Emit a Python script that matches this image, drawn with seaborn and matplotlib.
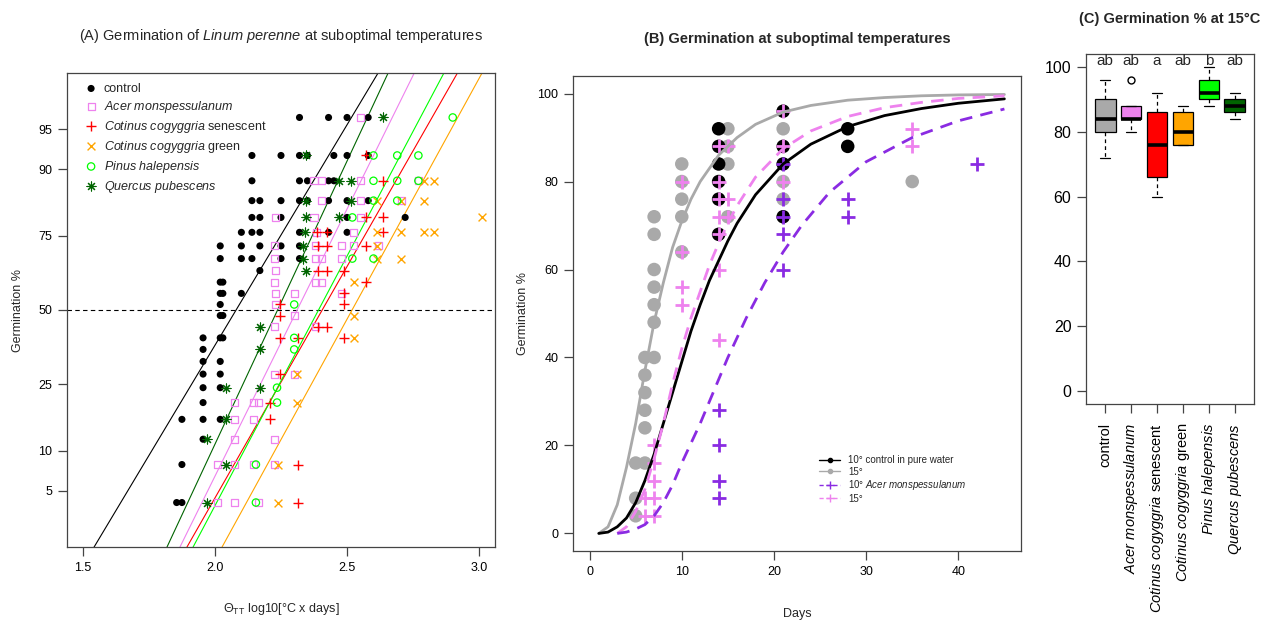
import numpy as np
import pandas as pd
import matplotlib
matplotlib.use("Agg")
import matplotlib.pyplot as plt
from matplotlib.lines import Line2D
import seaborn as sns
from statistics import NormalDist

# ============================================
# DATA - panel A (germination % vs log10 thermal time)
# ============================================
ctrl_x = [2.32, 2.43, 2.50, 2.58,
          2.14, 2.25, 2.32, 2.35, 2.45, 2.50, 2.58,
          2.14, 2.32, 2.35, 2.43, 2.45,
          2.14, 2.17, 2.25, 2.32, 2.35, 2.43, 2.50, 2.58,
          2.14, 2.17, 2.25, 2.50, 2.72,
          2.10, 2.14, 2.17, 2.32, 2.43, 2.50,
          2.02, 2.10, 2.17, 2.25, 2.32,
          2.02, 2.10, 2.14, 2.25, 2.32,
          2.17,
          2.02, 2.03,
          2.02, 2.03, 2.10,
          2.02,
          2.02, 2.03,
          1.955, 2.02, 2.03,
          1.955,
          1.955, 2.02,
          1.955, 2.02,
          1.955, 2.02,
          1.955,
          1.875, 1.955, 2.02,
          1.955,
          1.875,
          1.855, 1.875]
ctrl_y = [96, 96, 96, 96,
          92, 92, 92, 92, 92, 92, 92,
          88, 88, 88, 88, 88,
          84, 84, 84, 84, 84, 84, 84, 84,
          80, 80, 80, 80, 80,
          76, 76, 76, 76, 76, 76,
          72, 72, 72, 72, 72,
          68, 68, 68, 68, 68,
          64,
          60, 60,
          56, 56, 56,
          52,
          48, 48,
          40, 40, 40,
          36,
          32, 32,
          28, 28,
          24, 24,
          20,
          16, 16, 16,
          12,
          8,
          4, 4]

acer_x = [2.55,
          2.375, 2.405, 2.55, 2.77,
          2.405, 2.55, 2.705,
          2.23, 2.375, 2.55,
          2.385, 2.525,
          2.225, 2.38, 2.48, 2.525, 2.62,
          2.225, 2.38, 2.405, 2.48,
          2.23,
          2.225, 2.38, 2.405,
          2.23, 2.30, 2.48,
          2.23,
          2.30,
          2.225, 2.38,
          2.225, 2.30,
          2.075, 2.145, 2.165,
          2.075, 2.145,
          2.075, 2.225,
          2.01, 2.075, 2.145, 2.225,
          2.01, 2.075, 2.165]
acer_y = [96,
          88, 88, 88, 88,
          84, 84, 84,
          80, 80, 80,
          76, 76,
          72, 72, 72, 72, 72,
          68, 68, 68, 68,
          64,
          60, 60, 60,
          56, 56, 56,
          52,
          48,
          44, 44,
          28, 28,
          20, 20, 20,
          16, 16,
          12, 12,
          8, 8, 8, 8,
          4, 4, 4]

sen_x = [2.57, 2.635, 2.57, 2.635, 2.385, 2.425, 2.635, 2.39, 2.425, 2.57,
         2.39, 2.425, 2.49, 2.57, 2.49, 2.245, 2.49, 2.245, 2.39, 2.425,
         2.245, 2.315, 2.49, 2.245, 2.21, 2.21, 2.315, 2.315]
sen_y = [92, 88, 80, 80, 76, 76, 76, 72, 72, 72,
         64, 64, 64, 60, 56, 52, 52, 48, 44, 44,
         40, 40, 40, 28, 20, 16, 8, 4]

grn_x = [2.79, 2.83, 2.615, 2.705, 2.79, 3.01, 2.615, 2.705, 2.79, 2.83,
         2.615, 2.615, 2.705, 2.525, 2.525, 2.525, 2.31, 2.31, 2.24, 2.24]
grn_y = [88, 88, 84, 84, 84, 80, 76, 76, 76, 76,
         72, 68, 68, 60, 48, 40, 28, 20, 8, 4]

pin_x = [2.90, 2.60, 2.69, 2.77, 2.60, 2.69, 2.77, 2.60, 2.69, 2.52,
         2.52, 2.60, 2.30, 2.30, 2.30, 2.235, 2.235, 2.155, 2.155]
pin_y = [96, 92, 92, 92, 88, 88, 88, 84, 84, 80,
         68, 68, 52, 40, 36, 24, 20, 8, 4]

que_x = [2.635, 2.345, 2.47, 2.515, 2.345, 2.515, 2.345, 2.47, 2.34, 2.335,
         2.335, 2.345, 2.17, 2.17, 2.04, 2.17, 2.04, 1.97, 2.04, 1.97]
que_y = [96, 92, 88, 88, 84, 84, 80, 80, 76, 72,
         68, 64, 44, 36, 24, 24, 16, 12, 8, 4]

# probit fits: theta at 50 % and slope (probit units per log10 unit)
fit_x50 = [2.080, 2.311, 2.406, 2.519, 2.392, 2.237]
fit_slope = [4.01, 4.86, 4.21, 4.38, 4.54, 5.15]

# ============================================
# DATA - panel B (cumulative germination vs days)
# ============================================
c10_days = [14, 14, 14, 14, 14, 14, 21, 21, 21, 21, 28, 28]
c10_germ = [92, 88, 84, 80, 76, 68, 96, 88, 84, 72, 92, 88]
c15_days = [5, 5, 5, 6, 6, 6, 6, 6, 6, 7, 7, 7, 7, 7, 7, 7,
            10, 10, 10, 10, 10, 15, 15, 15, 15, 21, 21, 21, 35]
c15_germ = [16, 8, 4, 40, 36, 32, 28, 24, 16, 72, 68, 60, 56, 52, 48, 40,
            84, 80, 76, 72, 64, 92, 88, 84, 72, 92, 80, 76, 80]
a15_days = [6, 6, 7, 7, 7, 7, 7, 10, 10, 10, 10,
            14, 14, 14, 14, 14, 14, 14, 15, 15, 15, 21, 21, 21, 35, 35]
a15_germ = [8, 4, 20, 16, 12, 8, 4, 80, 64, 56, 52,
            88, 80, 76, 72, 68, 60, 44, 88, 76, 72, 96, 88, 80, 92, 88]
a10_days = [14, 14, 14, 14, 21, 21, 21, 21, 21, 28, 28, 42]
a10_germ = [28, 20, 12, 8, 84, 76, 72, 68, 60, 76, 72, 84]

c10_fit_days = [1, 2, 3, 4, 5, 6, 7, 8, 9, 10, 11, 12, 13, 14, 15, 16, 18, 21, 24, 28, 32, 36, 40, 45]
c10_fit = [0, 0.3, 1.5, 3.5, 7, 12, 18, 25, 32, 39, 46, 52, 57.5, 62, 66.5, 70.5, 77, 84,
           88.5, 92.5, 95, 96.6, 97.8, 98.8]
c15_fit_days = [1, 2, 3, 4, 5, 6, 7, 8, 9, 10, 11, 12, 13, 14, 16, 18, 21, 24, 28, 32, 36, 40, 45]
c15_fit = [0, 1.5, 6.5, 15, 25, 37, 48, 57, 65, 71, 76, 80, 83, 86, 90, 93, 95.8, 97.3,
           98.5, 99.1, 99.5, 99.7, 99.8]
a15_fit_days = [3, 4, 5, 6, 7, 8, 9, 10, 11, 12, 13, 14, 15, 16, 18, 21, 24, 28, 32, 36, 40, 45]
a15_fit = [0, 1.5, 5, 10, 17, 25, 34, 42, 49, 55, 61, 66, 70.5, 74.5, 81, 87.5, 91.5,
           94.8, 96.8, 98, 98.9, 99.5]
a10_fit_days = [3, 4, 5, 6, 7, 8, 9, 10, 11, 12, 13, 14, 15, 16, 17, 18, 19, 21, 23, 26,
                30, 35, 40, 45]
a10_fit = [0, 0.3, 1, 2, 4, 7, 11, 16, 20.5, 25, 30, 35, 40, 44.5, 49, 53, 57, 64, 70,
           77.5, 84.5, 90, 93.8, 96.5]

# ============================================
# DATA - panel C (germination % at 15 C, replicates)
# ============================================
box_groups = ["control", "acer", "cot_sen", "cot_green", "pinus", "quercus"]
box_ctrl = [72, 80, 84, 90, 96]
box_acer = [80, 84, 84, 88, 96]
box_cot_sen = [60, 66, 76, 86, 92]
box_cot_green = [76, 76, 80, 86, 88]
box_pinus = [88, 90, 92, 96, 100]
box_quercus = [84, 86, 88, 90, 92]
box_letters = ["ab", "ab", "a", "ab", "b", "ab"]

# ============================================
# STYLE
# ============================================
sns.set_style("ticks")
plt.rcParams["font.family"] = ["Liberation Sans", "DejaVu Sans"]
plt.rcParams["mathtext.fontset"] = "custom"
plt.rcParams["mathtext.rm"] = "Liberation Sans"
plt.rcParams["mathtext.it"] = "Liberation Sans:italic"
plt.rcParams["mathtext.bf"] = "Liberation Sans:bold"
plt.rcParams["axes.edgecolor"] = "#444444"
plt.rcParams["axes.linewidth"] = 0.9
plt.rcParams["xtick.color"] = "#444444"
plt.rcParams["ytick.color"] = "#444444"
plt.rcParams["xtick.labelcolor"] = "black"
plt.rcParams["ytick.labelcolor"] = "black"

VIOLET = "#EE82EE"
GREEN = "#00FF00"
DKGREEN = "#006400"
ORANGE = "#FFA500"
GRAY = "#A9A9A9"
PURPLE = "#8A2BE2"

W, H = 1274, 621
fig = plt.figure(figsize=(W / 100, H / 100), dpi=100)


def box(l, t, r, b):
    return [l / W, 1 - b / H, (r - l) / W, (b - t) / H]


axA = fig.add_axes(box(67, 73, 495, 547))
axB = fig.add_axes(box(573, 76, 1021, 551))
axC = fig.add_axes(box(1086, 54, 1254, 404))

# ============================================
# PANEL A
# ============================================
nd = NormalDist()


def to_probit(p):
    p = np.clip(np.asarray(p, dtype=float) / 100.0, 1e-9, 1 - 1e-9)
    return np.vectorize(nd.inv_cdf, otypes=[float])(p)


def from_probit(z):
    return np.vectorize(nd.cdf, otypes=[float])(np.asarray(z, dtype=float)) * 100.0


axA.set_yscale("function", functions=(to_probit, from_probit))

groups = [
    ("control", ctrl_x, ctrl_y, "black", dict(marker="o", s=26, edgecolor="none")),
    (r"$\mathit{Acer\ monspessulanum}$", acer_x, acer_y, VIOLET,
     dict(marker="s", s=26, facecolor="none", edgecolor=VIOLET, linewidth=0.9)),
    (r"$\mathit{Cotinus\ cogyggria}$ senescent", sen_x, sen_y, "red",
     dict(marker="+", s=60, linewidth=1.0)),
    (r"$\mathit{Cotinus\ cogyggria}$ green", grn_x, grn_y, ORANGE,
     dict(marker="x", s=32, linewidth=1.0)),
    (r"$\mathit{Pinus\ halepensis}$", pin_x, pin_y, GREEN,
     dict(marker="o", s=28, facecolor="none", edgecolor=GREEN, linewidth=0.9)),
    (r"$\mathit{Quercus\ pubescens}$", que_x, que_y, DKGREEN,
     dict(marker=(8, 2, 0), s=42, linewidth=0.8)),
]
for label, xs, ys, col, kw in groups:
    sns.scatterplot(x=xs, y=ys, color=col, label=label, ax=axA, zorder=3, **kw)

fit_colors = ["black", VIOLET, "red", ORANGE, GREEN, DKGREEN]
zz = np.array([-3.0, 3.0])
for x50, b, col in zip(fit_x50, fit_slope, fit_colors):
    axA.plot(x50 + zz / b, from_probit(zz), color=col, lw=0.8, zorder=2)
axA.axhline(50, color="black", lw=0.8, ls=(0, (4, 3)), zorder=1)

axA.set_xlim(1.44, 3.06)
axA.set_ylim(from_probit(-2.155), from_probit(2.155))
axA.set_xticks([1.5, 2.0, 2.5, 3.0], labels=["1.5", "2.0", "2.5", "3.0"])
axA.set_yticks([5, 10, 25, 50, 75, 90, 95], labels=["5", "10", "25", "50", "75", "90", "95"])
axA.yaxis.set_minor_locator(matplotlib.ticker.NullLocator())
axA.tick_params(labelsize=9, length=6.5, width=0.9, pad=4)
axA.set_xlabel(r"$\Theta_{\mathrm{TT}}$ log10[°C x days]", fontsize=9)
axA.set_ylabel("Germination %", fontsize=9)
axA.xaxis.set_label_coords(0.5, -0.113)
axA.yaxis.set_label_coords(-0.1, 0.5)
axA.set_title(r"(A) Germination of $\mathit{Linum\ perenne}$ at suboptimal temperatures",
              fontsize=10.5, pad=24)
axA.legend(loc="upper left", bbox_to_anchor=(0.03, 0.99), frameon=False, fontsize=9,
           handletextpad=0.5, labelspacing=0.32, borderaxespad=0, handlelength=1.0,
           scatterpoints=1)

# ============================================
# PANEL B
# ============================================
sns.scatterplot(x=c15_days, y=c15_germ, color=GRAY, s=95, edgecolor="none", ax=axB, zorder=2)
sns.scatterplot(x=c10_days, y=c10_germ, color="black", s=95, edgecolor="none", ax=axB, zorder=2)
sns.scatterplot(x=a15_days, y=a15_germ, color=VIOLET, marker="+", s=95, linewidth=2, ax=axB, zorder=2)
sns.scatterplot(x=a10_days, y=a10_germ, color=PURPLE, marker="+", s=95, linewidth=2, ax=axB, zorder=2)

dash = (0, (4.5, 3))
sns.lineplot(x=c15_fit_days, y=c15_fit, color=GRAY, linewidth=2, ax=axB, zorder=3)
sns.lineplot(x=c10_fit_days, y=c10_fit, color="black", linewidth=2, ax=axB, zorder=3)
sns.lineplot(x=a15_fit_days, y=a15_fit, color=VIOLET, linewidth=2, linestyle=dash, ax=axB, zorder=3)
sns.lineplot(x=a10_fit_days, y=a10_fit, color=PURPLE, linewidth=2, linestyle=dash, ax=axB, zorder=3)

axB.set_xlim(-1.8, 46.8)
axB.set_ylim(-4, 104)
axB.set_xticks([0, 10, 20, 30, 40])
axB.set_yticks([0, 20, 40, 60, 80, 100])
axB.tick_params(labelsize=9, length=6.5, width=0.9, pad=4)
axB.set_xlabel("Days", fontsize=9)
axB.set_ylabel("Germination %", fontsize=9)
axB.xaxis.set_label_coords(0.5, -0.12)
axB.yaxis.set_label_coords(-0.098, 0.5)
axB.set_title("(B) Germination at suboptimal temperatures", fontsize=10.5,
              fontweight="bold", pad=24)
handles = [
    Line2D([], [], color="black", lw=1, marker="o", ms=3),
    Line2D([], [], color=GRAY, lw=1, marker="o", ms=3),
    Line2D([], [], color=PURPLE, lw=1, ls=(0, (3, 2)), marker="+", ms=6),
    Line2D([], [], color=VIOLET, lw=1, ls=(0, (3, 2)), marker="+", ms=6),
]
labels = ["10° control in pure water", "15°", r"10° $\mathit{Acer\ monspessulanum}$", "15°"]
axB.legend(handles, labels, loc="upper left", bbox_to_anchor=(0.54, 0.21), frameon=False,
           fontsize=7, handlelength=2.2, handletextpad=0.8, labelspacing=0.15,
           borderaxespad=0)

# ============================================
# PANEL C
# ============================================
box_values = [box_ctrl, box_acer, box_cot_sen, box_cot_green, box_pinus, box_quercus]
box_df = pd.DataFrame({
    "treatment": np.repeat(box_groups, [len(v) for v in box_values]),
    "germination": np.concatenate(box_values),
})
box_colors = [GRAY, VIOLET, "red", ORANGE, GREEN, DKGREEN]
sns.boxplot(data=box_df, x="treatment", y="germination", hue="treatment",
            order=box_groups, hue_order=box_groups, palette=box_colors, legend=False,
            saturation=1, width=0.8, linecolor="black", linewidth=0.9, whis=1.5,
            medianprops={"linewidth": 2.6, "color": "black"},
            whiskerprops={"linestyle": (0, (3, 2.5))},
            flierprops={"marker": "o", "markerfacecolor": "none",
                        "markeredgecolor": "black", "markersize": 5},
            ax=axC)
for i, letter in enumerate(box_letters):
    axC.text(i, 101.8, letter, ha="center", va="center", fontsize=11)

axC.set_xlim(-0.74, 5.74)
axC.set_ylim(-4, 104)
axC.set_yticks([0, 20, 40, 60, 80, 100])
axC.set_xticks(range(6), labels=[
    "control",
    r"$\mathit{Acer\ monspessulanum}$",
    r"$\mathit{Cotinus\ cogyggria}$ senescent",
    r"$\mathit{Cotinus\ cogyggria}$ green",
    r"$\mathit{Pinus\ halepensis}$",
    r"$\mathit{Quercus\ pubescens}$",
], rotation=90)
axC.tick_params(axis="y", labelsize=11.5, length=6.5, width=0.9, pad=4)
axC.tick_params(axis="x", labelsize=10.5, length=6.5, width=0.9, pad=7)
axC.set_xlabel("")
axC.set_ylabel("")
axC.set_title("(C) Germination % at 15°C", fontsize=10.5, fontweight="bold", pad=22)

fig.savefig("out.png", dpi=100)
